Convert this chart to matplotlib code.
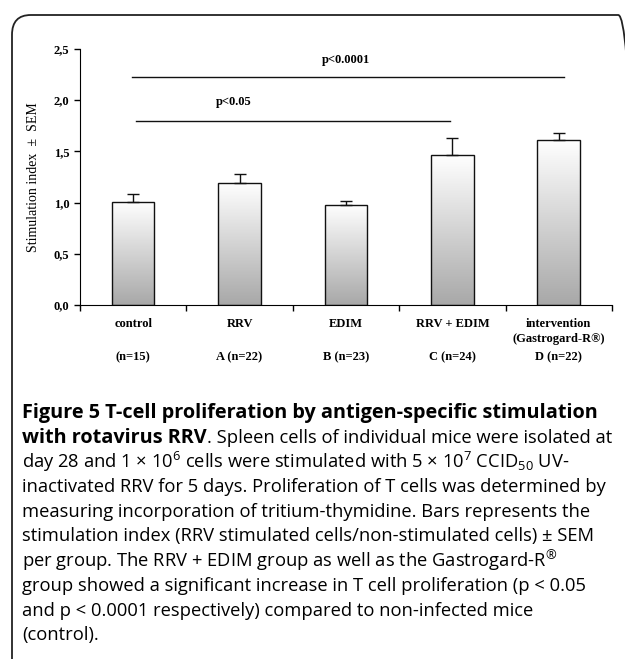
import numpy as np
import matplotlib
matplotlib.use("Agg")
import matplotlib.pyplot as plt
from matplotlib.patches import FancyBboxPatch
import matplotlib.transforms as mtransforms

groups = ["control", "RRV", "EDIM", "RRV + EDIM", "intervention\n(Gastrogard-R\u00ae)"]
ns = ["(n=15)", "A (n=22)", "B (n=23)", "C (n=24)", "D (n=22)"]
values = [1.01, 1.19, 0.98, 1.46, 1.61]
sems = [0.07, 0.09, 0.04, 0.17, 0.07]
yticks = [0.0, 0.5, 1.0, 1.5, 2.0, 2.5]

SERIF = "Liberation Serif"
plt.rcParams["mathtext.fontset"] = "custom"
plt.rcParams["mathtext.rm"] = "Open Sans"
plt.rcParams["mathtext.it"] = "Open Sans"
fig = plt.figure(figsize=(6.25, 6.59), dpi=100, facecolor="white")

# rounded frame
fig.patches.append(FancyBboxPatch((12/625, -0.05), 1.0, 1 - 15/659 + 0.05,
                                  boxstyle="round,pad=0,rounding_size=0.03",
                                  transform=fig.transFigure, fill=False, ec="#222222", lw=1.3))

ax = fig.add_axes([0.128, 0.537, 0.851, 0.389])
x = np.arange(len(values))
bars = ax.bar(x, values, width=0.4, color="none", edgecolor="#111111", lw=1.0, zorder=3)
grad = np.linspace(0, 1, 256).reshape(-1, 1)
cmap = matplotlib.colors.LinearSegmentedColormap.from_list("g", ["#ffffff", "#a8a8a8"])
for b in bars:
    x0, w, h = b.get_x(), b.get_width(), b.get_height()
    im = ax.imshow(grad, cmap=cmap, extent=[x0, x0 + w, 0, h], aspect="auto", zorder=2, vmin=0, vmax=1)
    im.set_clip_path(b)
ax.errorbar(x, values, yerr=[np.zeros(len(sems)), sems], fmt="none", ecolor="#111111",
            elinewidth=1, capsize=4, capthick=1, zorder=4)

ax.set_xlim(-0.5, len(values) - 0.5)
ax.set_ylim(0, 2.5)
ax.set_yticks(yticks)
ax.set_yticklabels([f"{v:.1f}".replace(".", ",") for v in yticks], fontfamily=SERIF,
                   fontweight="bold", fontsize=9)
ax.set_xticks(np.arange(len(values) + 1) - 0.5)
ax.set_xticklabels([])
ax.tick_params(axis="both", direction="out", length=4, width=1)
for s in ["top", "right"]:
    ax.spines[s].set_visible(False)
ax.set_ylabel("Stimulation index  \u00b1  SEM", fontfamily=SERIF, fontsize=10, labelpad=10)

tr = mtransforms.blended_transform_factory(ax.transData, fig.transFigure)
for i, (g, n) in enumerate(zip(groups, ns)):
    ax.text(i, 1 - 318/659, g, transform=tr, ha="center", va="top", fontfamily=SERIF,
            fontweight="bold", fontsize=9, linespacing=1.3)
    ax.text(i, 1 - 351/659, n, transform=tr, ha="center", va="top", fontfamily=SERIF,
            fontweight="bold", fontsize=9)

# significance lines
ax.plot([-0.01, 4.05], [2.22, 2.22], color="#111111", lw=1, clip_on=False)
ax.text(2.0, 2.33, "p<0.0001", ha="center", va="bottom", fontfamily=SERIF, fontweight="bold", fontsize=9)
ax.plot([0.03, 2.98], [1.8, 1.8], color="#111111", lw=1, clip_on=False)
ax.text(0.95, 1.92, "p<0.05", ha="center", va="bottom", fontfamily=SERIF, fontweight="bold", fontsize=9)

lines = [
    ("Figure 5 T-cell proliferation by antigen-specific stimulation", None),
    ("with rotavirus RRV", ". Spleen cells of individual mice were isolated at"),
    (None, "day 28 and 1 \u00d7 10$^6$ cells were stimulated with 5 \u00d7 10$^7$ CCID$_{50}$ UV-"),
    (None, "inactivated RRV for 5 days. Proliferation of T cells was determined by"),
    (None, "measuring incorporation of tritium-thymidine. Bars represents the"),
    (None, "stimulation index (RRV stimulated cells/non-stimulated cells) \u00b1 SEM"),
    (None, "per group. The RRV + EDIM group as well as the Gastrogard-R$^{\u00ae}$"),
    (None, "group showed a significant increase in T cell proliferation (p < 0.05"),
    (None, "and p < 0.0001 respectively) compared to non-infected mice"),
    (None, "(control)."),
]
fs = 13.2
fsb = 14.3
y0 = 413
for k, (bold, rest) in enumerate(lines):
    yy = 1 - (y0 + k * 24.7) / 659
    xx = 22 / 625
    if bold:
        t = fig.text(xx, yy, bold, fontfamily="Open Sans", fontweight="bold", fontsize=fsb, va="center")
        if rest:
            fig.canvas.draw()
            bb = t.get_window_extent()
            fig.text(bb.x1 / 625, yy, rest, fontfamily="Open Sans", fontsize=fs, va="center")
    else:
        fig.text(xx, yy, rest, fontfamily="Open Sans", fontsize=fs, va="center")

fig.savefig("out.png", dpi=100, facecolor="white")
